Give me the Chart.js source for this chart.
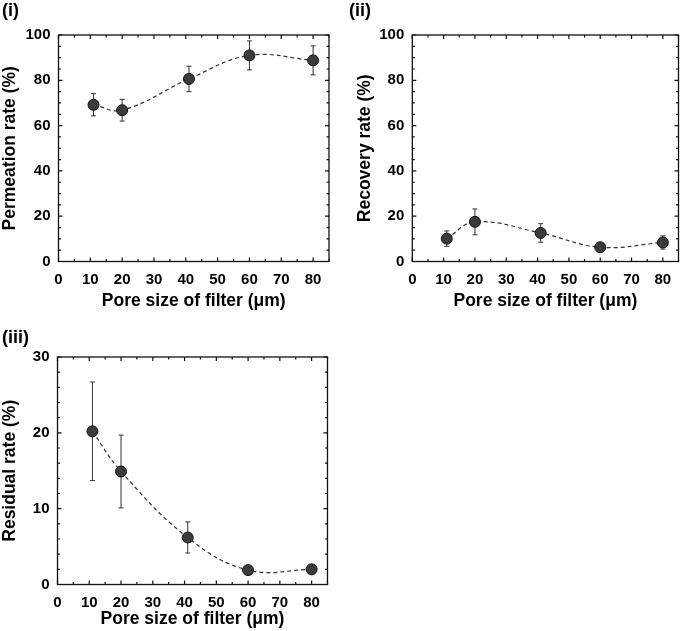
<!DOCTYPE html>
<html>
<head>
<meta charset="utf-8">
<script src="https://cdn.jsdelivr.net/npm/chart.js@4.4.1/dist/chart.umd.min.js"></script>
<style>
    html, body { margin: 0; padding: 0; background: #fff; }
    #wrap { position: relative; width: 685px; height: 631px; overflow: hidden; }
    canvas { position: absolute; }
</style>
</head>
<body>
<div id="wrap">
    <canvas id="permeationChart" width="340" height="313" style="left:0;top:0;width:340px;height:313px"></canvas>
    <canvas id="recoveryChart" width="345" height="313" style="left:340px;top:0;width:345px;height:313px"></canvas>
    <canvas id="residualChart" width="340" height="317" style="left:0;top:313px;width:340px;height:317px"></canvas>
</div>
<script>
// values
const poreSizes = [11, 20, 41, 60, 80];

const permeationRate = [69.2, 66.8, 80.6, 91.0, 88.8];
const permeationError = [4.9, 4.8, 5.6, 6.4, 6.4];

const recoveryRate = [10.1, 17.5, 12.6, 6.3, 8.4];
const recoveryError = [3.4, 5.7, 4.1, 1.5, 2.9];

const residualRate = [20.2, 14.9, 6.2, 1.9, 2.0];
const residualError = [6.5, 4.8, 2.05, 0.5, 0.5];

const xTicks = [0, 10, 20, 30, 40, 50, 60, 70, 80];
const yTicksRate = [0, 20, 40, 60, 80, 100];
const yTicksResidual = [0, 10, 20, 30];

const FONT = 'Arial, "Liberation Sans", sans-serif';

// frame, inward ticks on all four sides, error bars
const frameAndErrorPlugin = {
    id: 'frameAndError',
    beforeDatasetsDraw(chart, args, opts) {
        const ctx = chart.ctx;
        const xs = chart.scales.x;
        const ys = chart.scales.y;
        const points = chart.data.datasets[0].data;
        ctx.save();
        ctx.strokeStyle = '#333';
        ctx.lineWidth = 1;
        points.forEach(function (pt, i) {
            const err = opts.errors[i];
            if (!err) return;
            const px = xs.getPixelForValue(pt.x);
            const top = ys.getPixelForValue(pt.y + err);
            const bot = ys.getPixelForValue(pt.y - err);
            ctx.beginPath();
            ctx.moveTo(px, top); ctx.lineTo(px, bot);
            ctx.moveTo(px - 2.5, top); ctx.lineTo(px + 2.5, top);
            ctx.moveTo(px - 2.5, bot); ctx.lineTo(px + 2.5, bot);
            ctx.stroke();
        });
        ctx.restore();
    },
    afterDraw(chart, args, opts) {
        const ctx = chart.ctx;
        const a = chart.chartArea;
        const xs = chart.scales.x;
        const ys = chart.scales.y;
        ctx.save();
        ctx.strokeStyle = '#111';
        ctx.lineWidth = 1.2;
        ctx.beginPath();

        const nx = Math.round((xs.max - xs.min) / opts.xMinor);
        for (let k = 0; k <= nx; k++) {
            const v = xs.min + k * opts.xMinor;
            const len = (Math.abs(v % opts.xMajor) < 1e-6) ? 4 : 2.5;
            const px = xs.getPixelForValue(v);
            ctx.moveTo(px, a.bottom); ctx.lineTo(px, a.bottom - len);
            ctx.moveTo(px, a.top); ctx.lineTo(px, a.top + len);
        }
        const ny = Math.round((ys.max - ys.min) / opts.yMinor);
        for (let k = 0; k <= ny; k++) {
            const v = ys.min + k * opts.yMinor;
            const len = (Math.abs(v % opts.yMajor) < 1e-6) ? 4 : 2.5;
            const py = ys.getPixelForValue(v);
            ctx.moveTo(a.left, py); ctx.lineTo(a.left + len, py);
            ctx.moveTo(a.right, py); ctx.lineTo(a.right - len, py);
        }
        ctx.stroke();
        ctx.lineWidth = 1.3;
        ctx.strokeRect(a.left, a.top, a.right - a.left, a.bottom - a.top);
        ctx.restore();
    }
};

function buildPanel(canvasId, cfg) {
    const canvas = document.getElementById(canvasId);
    if (!canvas) return;

    new Chart(canvas.getContext('2d'), {
        type: 'line',
        data: {
            datasets: [{
                data: poreSizes.map(function (x, i) { return { x: x, y: cfg.values[i] }; }),
                borderColor: '#333',
                borderWidth: 1.2,
                borderDash: [4, 3],
                tension: 0.4,
                fill: false,
                pointRadius: 5.5,
                pointBackgroundColor: '#3b3b3b',
                pointBorderColor: '#111',
                pointBorderWidth: 1
            }]
        },
        options: {
            responsive: false,
            animation: false,
            events: [],
            layout: { padding: cfg.padding },
            plugins: {
                legend: { display: false },
                tooltip: { enabled: false },
                title: {
                    display: true,
                    text: cfg.panel,
                    align: 'start',
                    color: '#000',
                    font: { family: FONT, size: 18, weight: 'bold' },
                    padding: cfg.panelPadding
                },
                frameAndError: {
                    errors: cfg.errors,
                    xMinor: 5, xMajor: 10,
                    yMinor: cfg.yMinor, yMajor: cfg.yMajor
                }
            },
            scales: {
                x: {
                    type: 'linear',
                    min: 0,
                    max: 85,
                    afterBuildTicks: function (s) { s.ticks = xTicks.map(function (v) { return { value: v }; }); },
                    afterFit: function (s) { s.height = cfg.xHeight; },
                    grid: { display: false, drawTicks: false },
                    border: { display: false },
                    ticks: {
                        padding: 9.2,
                        color: '#000',
                        maxRotation: 0,
                        autoSkip: false,
                        font: { family: FONT, size: 15, weight: 'bold' }
                    },
                    title: {
                        display: true,
                        text: 'Pore size of filter (μm)',
                        color: '#000',
                        font: { family: FONT, size: 17.5, weight: 'bold' },
                        padding: { top: 0, bottom: cfg.xTitlePad }
                    }
                },
                y: {
                    type: 'linear',
                    min: cfg.yTicks[0],
                    max: cfg.yTicks[cfg.yTicks.length - 1],
                    afterBuildTicks: function (s) { s.ticks = cfg.yTicks.map(function (v) { return { value: v }; }); },
                    afterFit: function (s) { s.width = cfg.yWidth; },
                    grid: { display: false, drawTicks: false },
                    border: { display: false },
                    ticks: {
                        padding: 8,
                        color: '#000',
                        autoSkip: false,
                        font: { family: FONT, size: 15, weight: 'bold' }
                    },
                    title: {
                        display: true,
                        text: cfg.yTitle,
                        color: '#000',
                        font: { family: FONT, size: 17.5, weight: 'bold' },
                        padding: { top: cfg.yTitlePad, bottom: 0 }
                    }
                }
            }
        },
        plugins: [frameAndErrorPlugin]
    });
}

buildPanel('permeationChart', {
    panel: '(i)',
    values: permeationRate,
    errors: permeationError,
    yTicks: yTicksRate,
    yTitle: 'Permeation rate (%)',
    yMinor: 5, yMajor: 20,
    padding: { left: 2, right: 11, top: 0, bottom: 0 },
    panelPadding: { top: 0.2, bottom: 13.2 },
    yWidth: 56.5, xHeight: 51.5,
    yTitlePad: -2.7, xTitlePad: 1.5
});

buildPanel('recoveryChart', {
    panel: '(ii)',
    values: recoveryRate,
    errors: recoveryError,
    yTicks: yTicksRate,
    yTitle: 'Recovery rate (%)',
    yMinor: 5, yMajor: 20,
    padding: { left: 9, right: 4, top: 0, bottom: 0 },
    panelPadding: { top: 0.2, bottom: 13.2 },
    yWidth: 63.3, xHeight: 51.5,
    yTitlePad: 5.2, xTitlePad: 1.5
});

buildPanel('residualChart', {
    panel: '(iii)',
    values: residualRate,
    errors: residualError,
    yTicks: yTicksResidual,
    yTitle: 'Residual rate (%)',
    yMinor: 2, yMajor: 10,
    padding: { left: 2, right: 12.5, top: 0, bottom: 0 },
    panelPadding: { top: 14.7, bottom: 7.7 },
    yWidth: 55.5, xHeight: 45.5,
    yTitlePad: -2.7, xTitlePad: 0.7
});
</script>
</body>
</html>
